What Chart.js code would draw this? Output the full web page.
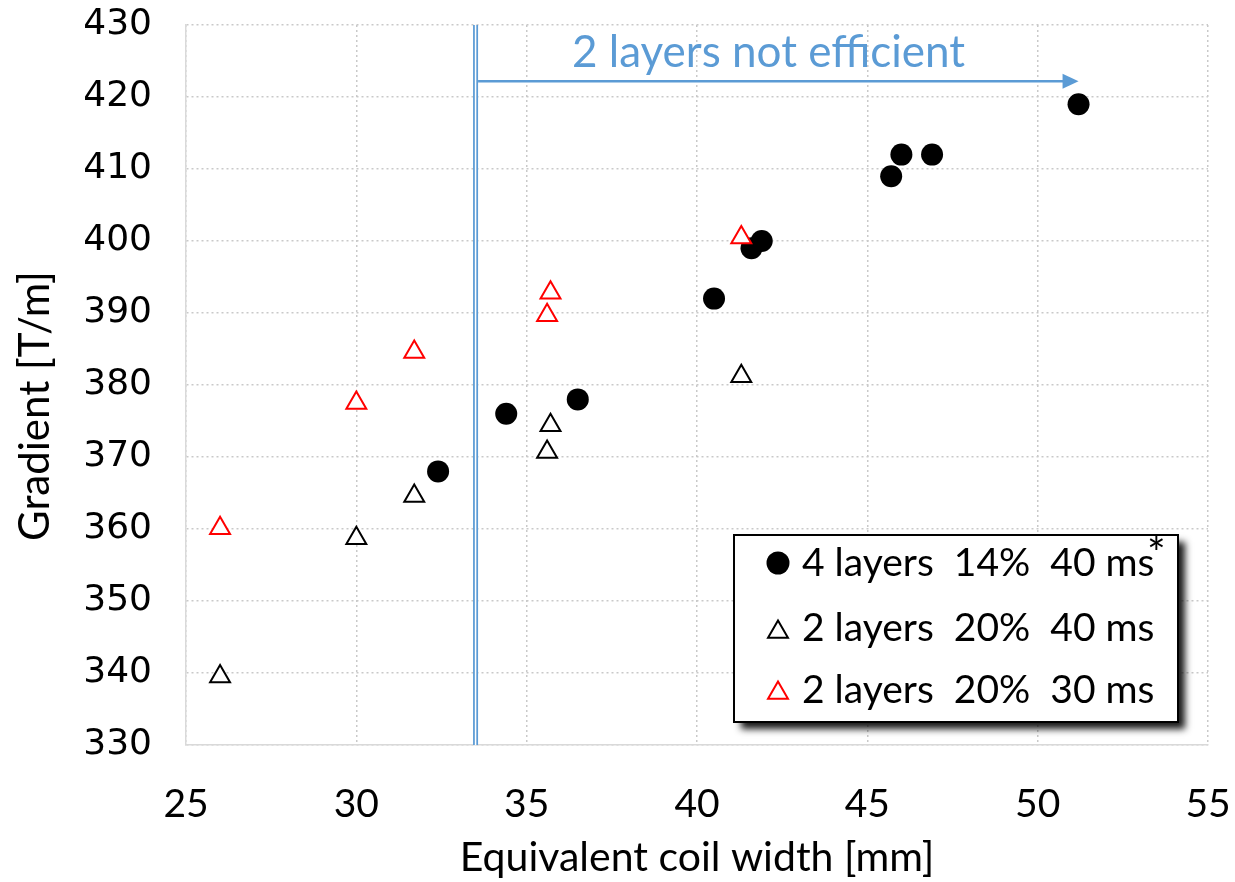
<!DOCTYPE html>
<html>
<head>
<meta charset="utf-8">
<title>Gradient vs equivalent coil width</title>
<script src="https://cdn.jsdelivr.net/npm/chart.js@4.4.1/dist/chart.umd.min.js"></script>
<style>
  html, body { margin: 0; padding: 0; background: #ffffff; }
  #wrap { position: relative; width: 1235px; height: 882px; }
</style>
</head>
<body>
<div id="wrap"><canvas id="gradient-chart" width="1235" height="882"></canvas></div>
<script>
// Equivalent coil width [mm] vs gradient [T/m]

// 4 layers, 14%, 40 ms
const fourLayerWidth    = [32.4, 34.4, 36.5, 40.5, 41.6, 41.9, 45.7, 46.0, 46.9, 51.2];
const fourLayerGradient = [368, 376, 378, 392, 399, 400, 409, 412, 412, 419];

// 2 layers, 20%, 40 ms
const twoLayer40Width    = [26.0, 30.0, 31.7, 35.6, 35.7, 41.3];
const twoLayer40Gradient = [339.5, 358.7, 364.6, 370.7, 374.4, 381.2];

// 2 layers, 20%, 30 ms
const twoLayer30Width    = [26.0, 30.0, 31.7, 35.6, 35.7, 41.3];
const twoLayer30Gradient = [360.1, 377.5, 384.6, 389.7, 392.8, 400.5];

const seriesLabels = ["4 layers  14%  40 ms", "2 layers  20%  40 ms", "2 layers  20%  30 ms"];

// axis ranges
const xMin = 25, xMax = 55, xStep = 5;
const yMin = 330, yMax = 430, yStep = 10;

// "2 layers not efficient" marker: divider position and arrow extent
const dividerWidth   = 33.5;
const arrowEndWidth  = 51.2;
const arrowGradient  = 422.2;
const noteText       = "2 layers not efficient";
const noteWidth      = 42.1;
const noteGradient   = 426.2;

const BLUE = "#5b9bd5";
const GRID = "#c9c9c9";
const SANS = "Lato, 'Open Sans', sans-serif";

function toPoints(xs, ys) {
  return xs.map((x, i) => ({ x: x, y: ys[i] }));
}

function drawTriangle(ctx, x, y, r, stroke) {
  ctx.save();
  ctx.beginPath();
  ctx.moveTo(x, y - r);
  ctx.lineTo(x + r * Math.sin(Math.PI * 2 / 3), y + r / 2);
  ctx.lineTo(x - r * Math.sin(Math.PI * 2 / 3), y + r / 2);
  ctx.closePath();
  ctx.fillStyle = "#ffffff";
  ctx.fill();
  ctx.lineWidth = 2;
  ctx.strokeStyle = stroke;
  ctx.stroke();
  ctx.restore();
}

const overlayPlugin = {
  id: "overlay",
  afterDatasetsDraw(chart) {
    const { ctx, chartArea, scales } = chart;
    const dx = scales.x.getPixelForValue(dividerWidth);

    // double vertical divider
    ctx.save();
    ctx.fillStyle = BLUE;
    ctx.fillRect(dx - 2.5, chartArea.top, 5, chartArea.bottom - chartArea.top);
    ctx.fillStyle = "#ffffff";
    ctx.fillRect(dx - 0.75, chartArea.top, 1.5, chartArea.bottom - chartArea.top);

    // arrow
    const ay = scales.y.getPixelForValue(arrowGradient);
    const tip = scales.x.getPixelForValue(arrowEndWidth);
    ctx.strokeStyle = BLUE;
    ctx.lineWidth = 2.5;
    ctx.beginPath();
    ctx.moveTo(dx + 2.5, ay);
    ctx.lineTo(tip - 12, ay);
    ctx.stroke();
    ctx.fillStyle = BLUE;
    ctx.beginPath();
    ctx.moveTo(tip, ay);
    ctx.lineTo(tip - 16, ay - 7.5);
    ctx.lineTo(tip - 16, ay + 7.5);
    ctx.closePath();
    ctx.fill();

    // note text
    ctx.font = "44px " + SANS;
    ctx.textAlign = "center";
    ctx.textBaseline = "middle";
    ctx.fillText(noteText, scales.x.getPixelForValue(noteWidth), scales.y.getPixelForValue(noteGradient));
    ctx.restore();
  },
  afterDraw(chart) {
    const { ctx } = chart;

    // y axis title
    ctx.save();
    ctx.translate(35, 406);
    ctx.rotate(-Math.PI / 2);
    ctx.font = "42px " + SANS;
    ctx.fillStyle = "#000000";
    ctx.textAlign = "center";
    ctx.textBaseline = "middle";
    ctx.fillText("Gradient [T/m]", 0, 0);
    ctx.restore();

    // legend box with drop shadow
    const box = { left: 734, top: 535, width: 444, height: 187 };
    ctx.save();
    ctx.shadowColor = "rgba(0,0,0,0.9)";
    ctx.shadowBlur = 7;
    ctx.shadowOffsetX = 7;
    ctx.shadowOffsetY = 7;
    ctx.fillStyle = "#ffffff";
    ctx.fillRect(box.left, box.top, box.width, box.height);
    ctx.restore();
    ctx.save();
    ctx.strokeStyle = "#000000";
    ctx.lineWidth = 2;
    ctx.strokeRect(box.left, box.top, box.width, box.height);

    const rows = [563, 628, 690];
    const mx = 778;
    ctx.fillStyle = "#000000";
    ctx.beginPath();
    ctx.arc(mx, rows[0], 11.5, 0, Math.PI * 2);
    ctx.fill();
    drawTriangle(ctx, mx, rows[1] + 4, 11.5, "#000000");
    drawTriangle(ctx, mx, rows[2] + 3, 11.5, "#ff0000");

    ctx.font = "39px " + SANS;
    ctx.fillStyle = "#000000";
    ctx.textAlign = "left";
    ctx.textBaseline = "middle";
    seriesLabels.forEach((label, i) => ctx.fillText(label, 802, rows[i]));
    const w0 = ctx.measureText(seriesLabels[0]).width;
    ctx.font = "44px " + SANS;
    ctx.textAlign = "center";
    ctx.fillText("*", 802 + w0 + 2, rows[0] - 8);
    ctx.restore();
  },
};

new Chart(document.getElementById("gradient-chart"), {
  type: "scatter",
  data: {
    datasets: [
      {
        label: seriesLabels[0],
        data: toPoints(fourLayerWidth, fourLayerGradient),
        pointStyle: "circle",
        pointRadius: 11,
        pointHoverRadius: 11,
        backgroundColor: "#000000",
        borderColor: "#000000",
        borderWidth: 0,
        order: 3,
      },
      {
        label: seriesLabels[1],
        data: toPoints(twoLayer40Width, twoLayer40Gradient),
        pointStyle: "triangle",
        pointRadius: 11.5,
        pointHoverRadius: 11.5,
        backgroundColor: "#ffffff",
        borderColor: "#000000",
        borderWidth: 2,
        order: 2,
      },
      {
        label: seriesLabels[2],
        data: toPoints(twoLayer30Width, twoLayer30Gradient),
        pointStyle: "triangle",
        pointRadius: 11.5,
        pointHoverRadius: 11.5,
        backgroundColor: "#ffffff",
        borderColor: "#ff0000",
        borderWidth: 2,
        order: 1,
      },
    ],
  },
  options: {
    responsive: false,
    animation: false,
    devicePixelRatio: 1,
    layout: { padding: { left: 0, top: 25, right: 27, bottom: 0 } },
    plugins: {
      legend:  { display: false },
      tooltip: { enabled: false },
    },
    scales: {
      x: {
        type: "linear",
        min: xMin,
        max: xMax,
        afterFit: scale => {
          scale.height = 137;
          scale.paddingLeft = 0;
          scale.paddingRight = 0;
        },
        ticks: {
          stepSize: xStep,
          padding: 36,
          color: "#000000",
          font: { family: SANS, size: 39 },
        },
        grid: { color: GRID, lineWidth: 1.5, drawTicks: false },
        border: { display: true, color: "#d9d9d9", width: 1.5, dash: [2, 3] },
        title: {
          display: true,
          text: "Equivalent coil width [mm]",
          color: "#000000",
          font: { family: SANS, size: 41 },
          padding: { top: 0, bottom: 0 },
        },
      },
      y: {
        type: "linear",
        min: yMin,
        max: yMax,
        afterFit: scale => {
          scale.width = 186;
          scale.paddingTop = 0;
          scale.paddingBottom = 0;
        },
        ticks: {
          stepSize: yStep,
          padding: 34,
          color: "#000000",
          font: { family: "'DejaVu Sans', sans-serif", size: 36 },
        },
        grid: { color: GRID, lineWidth: 1.5, drawTicks: false },
        border: { display: true, color: "#d9d9d9", width: 1.5, dash: [2, 3] },
      },
    },
  },
  plugins: [overlayPlugin],
});
</script>
</body>
</html>
